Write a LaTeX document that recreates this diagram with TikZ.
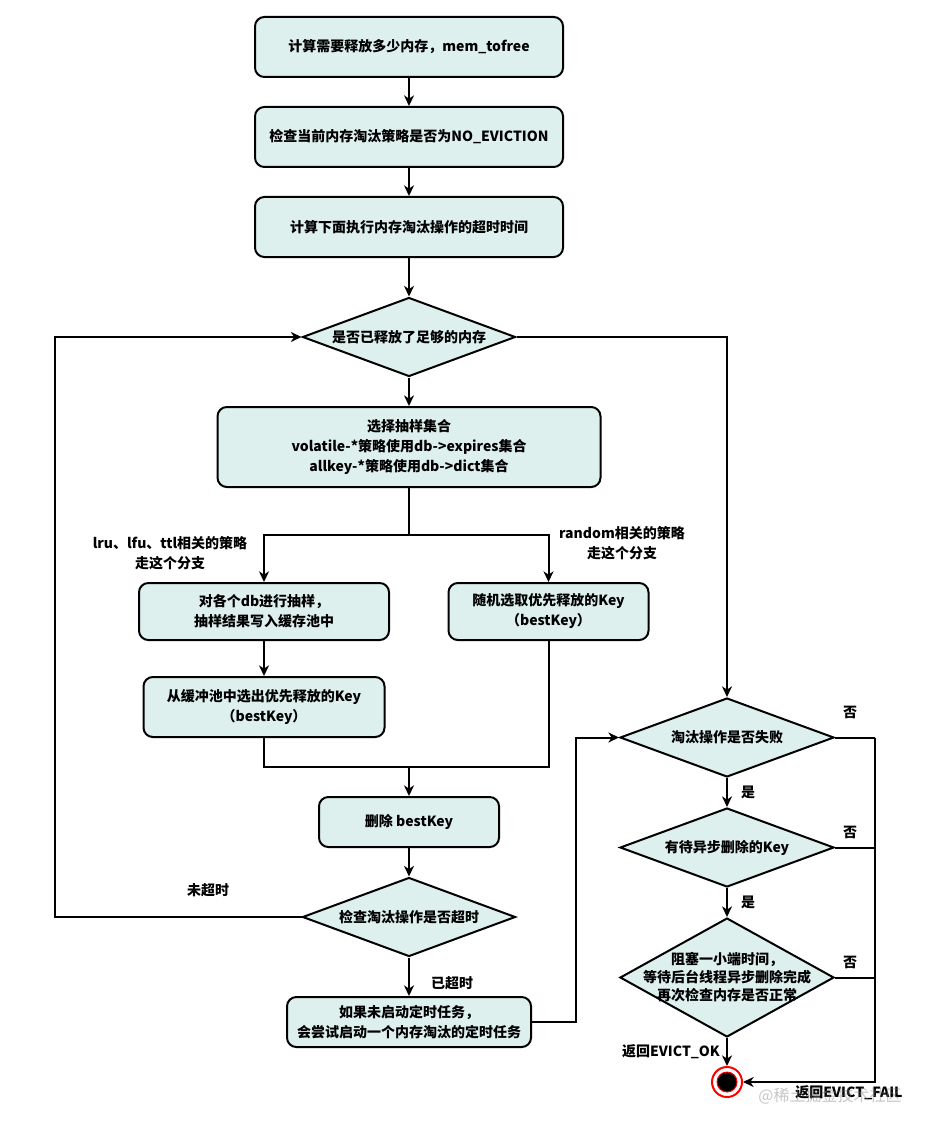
\documentclass[tikz,border=0pt]{standalone}
\usepackage{fontspec}
\setmainfont{Noto Sans CJK SC}
\usetikzlibrary{shapes.geometric,arrows.meta}
\definecolor{boxfill}{RGB}{221,240,238}
\newcommand\fs{\fontsize{10.5}{15}\selectfont\bfseries}
\begin{document}
\begin{tikzpicture}[x=0.75pt,y=-0.75pt,
  box/.style={draw,line width=1.5pt,fill=boxfill,rounded corners=7pt,align=center,inner sep=0pt,font=\fs},
  dia/.style={draw,line width=1.5pt,fill=boxfill,diamond,inner sep=0pt},
  txt/.style={align=center,inner sep=0pt,font=\fs},
  arr/.style={line width=1.5pt,-{Stealth[length=8pt,width=7.5pt,inset=2.5pt]}},
  ln/.style={line width=1.5pt}]
\useasboundingbox (0,0) rectangle (939,1134);
% boxes
\node[box,minimum width=308*0.75pt,minimum height=60*0.75pt] (b1) at (409,47) {计算需要释放多少内存，mem\_tofree};
\node[box,minimum width=308*0.75pt,minimum height=60*0.75pt] (b2) at (409,137) {检查当前内存淘汰策略是否为NO\_EVICTION};
\node[box,minimum width=308*0.75pt,minimum height=60*0.75pt] (b3) at (409,227) {计算下面执行内存淘汰操作的超时时间};
\node[dia,minimum width=213*0.75pt,minimum height=79*0.75pt] (d1) at (409,337) {};
\node[txt] at (d1) {是否已释放了足够的内存};
\node[box,minimum width=383*0.75pt,minimum height=80*0.75pt] (b4) at (409,447) {选择抽样集合\\volatile-*策略使用db->expires集合\\allkey-*策略使用db->dict集合};
\node[box,minimum width=250*0.75pt,minimum height=57*0.75pt] (b5) at (264,611.5) {对各个db进行抽样，\\抽样结果写入缓存池中};
\node[box,minimum width=200*0.75pt,minimum height=57*0.75pt] (b6) at (548.5,611.5) {随机选取优先释放的Key\\（bestKey）};
\node[box,minimum width=241*0.75pt,minimum height=60*0.75pt] (b7) at (264,707) {从缓冲池中选出优先释放的Key\\（bestKey）};
\node[box,minimum width=180*0.75pt,minimum height=50*0.75pt] (b8) at (409,822) {删除 bestKey};
\node[dia,minimum width=213*0.75pt,minimum height=79*0.75pt] (d2) at (409,917) {};
\node[txt] at (d2) {检查淘汰操作是否超时};
\node[box,minimum width=244*0.75pt,minimum height=50*0.75pt] (b9) at (409,1022) {如果未启动定时任务，\\会尝试启动一个内存淘汰的定时任务};
\node[dia,minimum width=214*0.75pt,minimum height=79*0.75pt] (d3) at (727,737.5) {};
\node[txt] at (d3) {淘汰操作是否失败};
\node[dia,minimum width=214*0.75pt,minimum height=79*0.75pt] (d4) at (727,847.5) {};
\node[txt] at (d4) {有待异步删除的Key};
\node[dia,minimum width=214*0.75pt,minimum height=119*0.75pt] (d5) at (727,977.5) {};
\node[txt,font=\fontsize{10.5}{13.5}\selectfont\bfseries] at (d5) {阻塞一小端时间，\\等待后台线程异步删除完成\\再次检查内存是否正常};
\node[circle,draw=red,line width=1.5pt,fill=white,minimum size=30*0.75pt,inner sep=0pt] (endc) at (727,1082) {};
\node[circle,draw=red,line width=0.75pt,fill=black,minimum size=20*0.75pt,inner sep=0pt] (endi) at (endc) {};
% coordinates
\coordinate (j1) at (409,535);
\coordinate (j2) at (409,767);
\coordinate (c1) at (55,917);
\coordinate (c2) at (576,1022);
\coordinate (r1) at (875,737.5);
% connectors
\draw[arr] (b1) -- (b2);
\draw[arr] (b2) -- (b3);
\draw[arr] (b3) -- (d1.north);
\draw[arr] (d1.south) -- (b4);
\draw[ln] (b4.south) -- (j1);
\draw[arr] (j1) -| (b5.north);
\draw[arr] (j1) -| (b6.north);
\draw[arr] (b5) -- (b7);
\draw[ln] (b7.south) |- (j2);
\draw[ln] (b6.south) |- (j2);
\draw[arr] (j2) -- (b8.north);
\draw[arr] (b8) -- (d2.north);
\draw[arr] (d2.south) -- (b9.north);
\draw[arr] (d2.west) -- (c1) |- (d1.west);
\draw[arr] (b9.east) -- (c2) |- (d3.west);
\draw[arr] (d1.east) -| (d3.north);
\draw[arr] (d3.south) -- (d4.north);
\draw[arr] (d4.south) -- (d5.north);
\draw[arr] (d5.south) -- (endc.north);
\draw[ln] (d3.east) -- (r1);
\draw[ln] (d4.east) -- (d4.east -| r1);
\draw[ln] (d5.east) -- (d5.east -| r1);
\draw[arr] (r1) |- (endc.east);
% labels
\node[txt] (l1) at (170,553) {lru、lfu、ttl相关的策略\\走这个分支};
\node[txt] (l2) at (622,543) {random相关的策略\\走这个分支};
\node[txt] (l3) at (208,890) {未超时};
\node[txt] (l4) at (452,983) {已超时};
\node[txt] (l5) at (850,712) {否};
\node[txt] (l6) at (850,832) {否};
\node[txt] (l7) at (850,962) {否};
\node[txt] (l8) at (748,792) {是};
\node[txt] (l9) at (748,902) {是};
\node[txt] (l10) at (671,1052) {返回EVICT\_OK};
\node[txt] (l11) at (849,1093) {返回EVICT\_FAIL};
\node[text=gray,opacity=0.45,inner sep=0pt,font=\fontsize{12}{12}\selectfont] (wm) at (830,1096) {@稀土掘金技术社区};
\end{tikzpicture}
\end{document}
